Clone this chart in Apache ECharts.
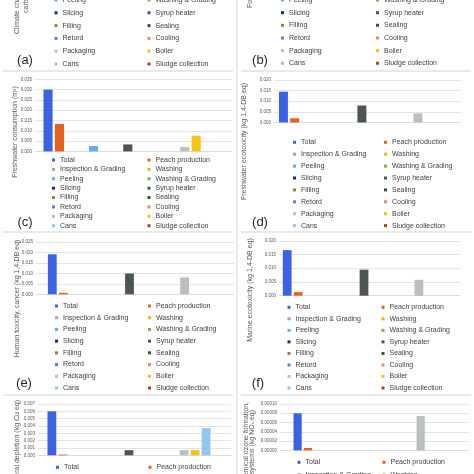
<!DOCTYPE html>
<html>
<head>
<meta charset="utf-8">
<script src="https://cdn.jsdelivr.net/npm/echarts@6/dist/echarts.min.js"></script>
<style>html,body{margin:0;padding:0;background:#fff}#c{width:474px;height:474px}</style>
</head>
<body>
<div id="c"></div>
<script>
// ---------- data ----------
const categories = ['Total','Peach production','Inspection & Grading','Washing','Peeling','Washing & Grading','Slicing','Syrup heater','Filling','Sealing','Retord','Cooling','Packaging','Boiler','Cans','Sludge collection'];
// (c) Freshwater consumption (m3)
const freshwaterConsumption = [0.0300, 0.0133, 0, 0, 0.0026, 0, 0, 0.0034, 0, 0, 0, 0, 0.0021, 0.0076, 0, 0];
// (d) Freshwater ecotoxicity (kg 1,4-DB eq)
const freshwaterEcotoxicity = [0.0145, 0.0020, 0, 0, 0, 0, 0, 0.0080, 0, 0, 0, 0, 0.0043, 0, 0, 0];
// (e) Human toxicity, cancer (kg 1,4-DB eq)
const humanToxicityCancer = [0.0192, 0.0007, 0, 0, 0, 0, 0, 0.0100, 0, 0, 0, 0, 0.0081, 0, 0, 0];
// (f) Marine ecotoxicity (kg 1,4-DB eq)
const marineEcotoxicity = [0.0166, 0.0013, 0, 0, 0, 0, 0, 0.0095, 0, 0, 0, 0, 0.0058, 0, 0, 0];
// (g) Mineral depletion (kg Cu eq)
const mineralDepletion = [0.0060, 0.0001, 0, 0, 0, 0, 0, 0.0007, 0, 0, 0, 0, 0.0007, 0.0007, 0.0037, 0];
// (h) Photochemical ozone formation, terrestrial ecosystems (kg NOx eq)
const ozoneFormation = [0.00008, 0.000005, 0, 0, 0, 0, 0, 0, 0, 0, 0, 0, 0.000074, 0, 0, 0];
// axis ranges [min, max, interval]
const axisC = [0, 0.035, 0.005];
const axisD = [0, 0.020, 0.005];
const axisE = [0, 0.025, 0.005];
const axisF = [0, 0.020, 0.005];
const axisG = [0, 0.007, 0.001];
const axisH = [0, 0.00010, 0.00002];

// ---------- styles ----------
const colors = ['#3c62e4','#e8601f','#a5a5a5','#f5b400','#6aaae8','#72b843','#1f2a6b','#4f5555','#948434','#2f5a2a','#5a82d2','#ee8a62','#bcbfbf','#f7c21c','#92c6f0','#b83d1c'];
const FONT = 'Liberation Sans';
const TXT = '#404040';

const panels = [
  {data: freshwaterConsumption, axis: axisC, dec: 3, left: 35, top: 79.3, width: 197, height: 72.1, gap: '8.6%'},
  {data: freshwaterEcotoxicity, axis: axisD, dec: 3, left: 274, top: 80, width: 187, height: 42.5, gap: '5.3%'},
  {data: humanToxicityCancer, axis: axisE, dec: 3, left: 36, top: 242.2, width: 198, height: 52.1, gap: '12%'},
  {data: marineEcotoxicity, axis: axisF, dec: 3, left: 279, top: 240.8, width: 181, height: 54.9, gap: '4.2%'},
  {data: mineralDepletion, axis: axisG, dec: 3, left: 38, top: 404, width: 193, height: 51.3, gap: '9.8%'},
  {data: ozoneFormation, axis: axisH, dec: 5, left: 280, top: 404, width: 189, height: 46.3, gap: '14.3%'}
];

const grid = [], xAxis = [], yAxis = [], series = [];
panels.forEach((p, pi) => {
  grid.push({left: p.left, top: p.top, width: p.width, height: p.height, containLabel: false});
  xAxis.push({gridIndex: pi, type: 'category', data: [''], axisTick: {show: false}, axisLabel: {show: false},
    axisLine: {lineStyle: {color: '#d9d9d9', width: 0.8}}});
  yAxis.push({gridIndex: pi, type: 'value', min: p.axis[0], max: p.axis[1], interval: p.axis[2],
    axisLine: {show: false}, axisTick: {show: false},
    splitLine: {lineStyle: {color: '#d9d9d9', width: 0.7}},
    axisLabel: {fontSize: 4.5, color: '#595959', fontFamily: FONT, margin: 3,
      formatter: v => v.toFixed(p.dec)}});
  categories.forEach((name, i) => {
    series.push({type: 'bar', name: name, xAxisIndex: pi, yAxisIndex: pi, data: [p.data[i]],
      itemStyle: {color: colors[i]}, barGap: '25%', barCategoryGap: p.gap, silent: true});
  });
});

// legends: two columns per panel
const leftNames = categories.filter((_, i) => i % 2 === 0);
const rightNames = categories.filter((_, i) => i % 2 === 1);
const legendSpecs = [
  {lx: 54.5, rx: 147.5, y0: -25.6, step: 12.8},   // (a)
  {lx: 281, rx: 376, y0: -25.3, step: 12.65},     // (b)
  {lx: 52, rx: 147.5, y0: 160, step: 9.39},      // (c)
  {lx: 293, rx: 384, y0: 142.3, step: 11.9},      // (d)
  {lx: 55, rx: 148, y0: 306, step: 11.71},        // (e)
  {lx: 287.5, rx: 381.5, y0: 307.3, step: 11.53}, // (f)
  {lx: 56, rx: 148.5, y0: 467.3, step: 12},       // (g)
  {lx: 297.5, rx: 382.5, y0: 462.3, step: 12.3}   // (h)
];
const legend = [];
legendSpecs.forEach(s => {
  [[s.lx, leftNames], [s.rx, rightNames]].forEach(([x, names]) => {
    legend.push({orient: 'vertical', left: x, top: s.y0 - 3.5, width: 90, height: 300, padding: 0,
      itemWidth: 3, itemHeight: 3, itemGap: s.step - 7, icon: 'rect', selectedMode: false,
      textStyle: {fontSize: 7, lineHeight: 7, color: TXT, fontFamily: FONT},
      data: names});
  });
});

// texts and separators
function vtext(x, y, text, align) {
  return {type: 'text', x: x, y: y, rotation: Math.PI / 2, silent: true,
    style: {text: text, fontSize: 7, fontFamily: FONT, fill: '#595959', align: align, verticalAlign: 'middle'}};
}
function label(x, y, text) {
  return {type: 'text', x: x, y: y, silent: true,
    style: {text: text, fontSize: 13, fontFamily: FONT, fill: '#262626', align: 'center', verticalAlign: 'middle'}};
}
function hline(x1, x2, y) {
  return {type: 'line', silent: true, shape: {x1: x1, y1: y, x2: x2, y2: y}, style: {stroke: '#e2e2e2', lineWidth: 1.5}};
}
const graphic = [
  hline(3, 233, 71), hline(241, 471, 71),
  hline(3, 233, 232), hline(241, 471, 232),
  hline(3, 233, 395), hline(241, 471, 395),
  {type: 'line', silent: true, shape: {x1: 237, y1: 0, x2: 237, y2: 474}, style: {stroke: '#e2e2e2', lineWidth: 1.5}},
  vtext(17, 34, 'Climate change, default, excl biogenic', 'left'),
  vtext(26.5, 13, 'carbon (kg CO\u2082 eq)', 'left'),
  vtext(250, 8, 'Fossil depletion (kg oil eq)', 'left'),
  vtext(15, 132, 'Freshwater consumption (m\u00b3)', 'center'),
  vtext(244, 141.5, 'Freshwater ecotoxicity (kg 1,4-DB eq)', 'center'),
  vtext(17, 298.5, 'Human toxicity, cancer (kg 1,4-DB eq)', 'center'),
  vtext(250, 290, 'Marine ecotoxicity (kg 1,4-DB eq)', 'center'),
  vtext(17, 400, 'Mineral depletion (kg Cu eq)', 'right'),
  vtext(246.5, 402, 'Photochemical ozone formation,', 'right'),
  vtext(252.5, 410, 'Terrestrial ecosystems (kg NO\u2093 eq)', 'right'),
  label(25, 60, '(a)'), label(260, 60, '(b)'),
  label(25, 222, '(c)'), label(260, 222, '(d)'),
  label(24, 383, '(e)'), label(258, 383, '(f)')
];

const chart = echarts.init(document.getElementById('c'), null, {renderer: 'canvas'});
chart.setOption({
  backgroundColor: '#ffffff',
  animation: false,
  grid: grid, xAxis: xAxis, yAxis: yAxis, series: series,
  legend: legend, graphic: graphic
});
</script>
</body>
</html>
